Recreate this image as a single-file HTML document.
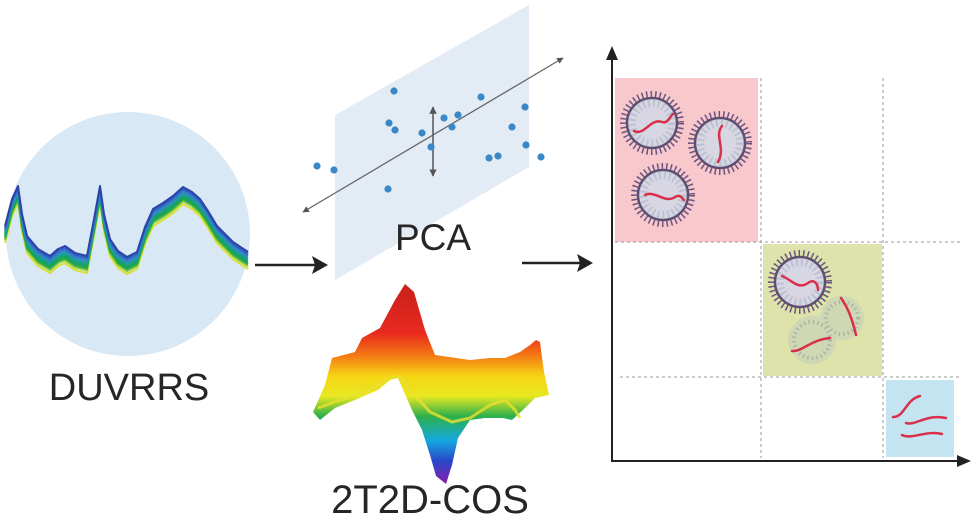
<!DOCTYPE html>
<html><head><meta charset="utf-8"><style>
html,body{margin:0;padding:0;background:#fff;}
svg{display:block;}
</style></head><body>
<svg width="976" height="525" viewBox="0 0 976 525" xmlns="http://www.w3.org/2000/svg">
<defs>
<linearGradient id="rb" x1="0" y1="283" x2="0" y2="485" gradientUnits="userSpaceOnUse">
<stop offset="0" stop-color="#c8201c"/>
<stop offset="0.25" stop-color="#e82a1e"/>
<stop offset="0.36" stop-color="#f47a14"/>
<stop offset="0.46" stop-color="#f6d414"/>
<stop offset="0.56" stop-color="#e8e820"/>
<stop offset="0.66" stop-color="#2cb04a"/>
<stop offset="0.78" stop-color="#14a8e0"/>
<stop offset="0.88" stop-color="#2848c8"/>
<stop offset="1" stop-color="#8a1ab0"/>
</linearGradient>
<marker id="ah" viewBox="0 0 10 10" refX="9" refY="5" markerWidth="5" markerHeight="5" orient="auto-start-reverse"><path d="M0,0 L10,5 L0,10 z" fill="#555"/></marker>
<g id="vir">
<circle r="29" fill="none" stroke="#6a5680" stroke-width="6" stroke-dasharray="1.5 3"/>
<circle r="25" fill="#d9d6e3" stroke="#5e4e72" stroke-width="2.5"/>
<circle r="20" fill="none" stroke="#a7b4c4" stroke-width="8" stroke-dasharray="2 3" opacity="0.6"/>
</g>
<path id="sp" d="M5,227 L12,200 L18,187 L22,215 L27,237 L38,250 L50,257 L58,250 L65,247 L75,254 L87,257 L94,220 L100,187 L104,215 L110,240 L118,252 L127,258 L137,253 L145,228 L153,210 L163,204 L173,197 L183,188 L192,193 L200,200 L208,212 L217,227 L233,243 L248,253"/>
</defs>

<circle cx="128" cy="234" r="122" fill="#d8e8f5"/>
<g fill="none" stroke-width="2" stroke-linejoin="round">
<use href="#sp" stroke="#d8e030" transform="translate(0,16)"/>
<use href="#sp" stroke="#7cc63a" transform="translate(0,13)"/>
<use href="#sp" stroke="#22a848" transform="translate(0,11)"/>
<use href="#sp" stroke="#1aa060" transform="translate(0,9)"/>
<use href="#sp" stroke="#18a080" transform="translate(0,7)"/>
<use href="#sp" stroke="#2098b0" transform="translate(0,5)"/>
<use href="#sp" stroke="#3a7ccc" transform="translate(0,3)"/>
<use href="#sp" stroke="#3060c0" transform="translate(0,1)"/>
<use href="#sp" stroke="#2a44a8" transform="translate(0,-1)"/>
</g>
<text x="129" y="400" text-anchor="middle" font-family="Liberation Sans, sans-serif" font-size="38" fill="#262626">DUVRRS</text>

<line x1="255" y1="265" x2="318" y2="265" stroke="#222" stroke-width="2.5"/>
<path d="M328,265 L312,256 L315,265 L312,274 z" fill="#222"/>
<line x1="522" y1="263" x2="583" y2="263" stroke="#222" stroke-width="2.5"/>
<path d="M593,263 L577,254 L580,263 L577,272 z" fill="#222"/>

<polygon points="335,115 529,5 529,167 335,280" fill="#e3ebf5"/>
<line x1="303" y1="212" x2="563" y2="58" stroke="#666" stroke-width="1.3" marker-start="url(#ah)" marker-end="url(#ah)"/>
<line x1="433" y1="107" x2="433" y2="176" stroke="#555" stroke-width="1.5" marker-start="url(#ah)" marker-end="url(#ah)"/>
<g fill="#3a88c8">
<circle cx="394" cy="91" r="3.6"/><circle cx="481" cy="97" r="3.6"/><circle cx="525" cy="107" r="3.6"/>
<circle cx="389" cy="123" r="3.6"/><circle cx="395" cy="130" r="3.6"/><circle cx="422" cy="133" r="3.6"/>
<circle cx="444" cy="118" r="3.6"/><circle cx="458" cy="115" r="3.6"/><circle cx="452" cy="127" r="3.6"/>
<circle cx="512" cy="127" r="3.6"/><circle cx="431" cy="147" r="3.6"/><circle cx="526" cy="145" r="3.6"/>
<circle cx="489" cy="158" r="3.6"/><circle cx="498" cy="156" r="3.6"/><circle cx="541" cy="157" r="3.6"/>
<circle cx="317" cy="166" r="3.6"/><circle cx="334" cy="170" r="3.6"/><circle cx="388" cy="189" r="3.6"/>
</g>
<text x="433" y="250" text-anchor="middle" font-family="Liberation Sans, sans-serif" font-size="37" fill="#262626">PCA</text>

<path d="M313,412 L325,385 L332,358 L355,352 L362,338 L380,328 L395,300 L405,284 L414,292 L425,330 L435,355 L470,360 L490,358 L505,358 L520,352 L530,345 L536,340 L540,342 L544,372 L549,395 L535,398 L525,408 L512,420 L503,418 L485,418 L470,420 L458,438 L452,465 L446,484 L436,476 L430,455 L422,430 L412,410 L398,378 L390,380 L378,390 L355,400 L335,408 L320,420 Z" fill="url(#rb)"/>
<path d="M318,408 L340,400 L365,392 L390,378 L400,376 L412,392 L430,412 L452,422 L470,418 L490,405 L505,400 L515,410 L520,418" fill="none" stroke="#e8e030" stroke-width="3" opacity="0.8"/>
<text x="430" y="513" text-anchor="middle" font-family="Liberation Sans, sans-serif" font-size="40" fill="#262626">2T2D-COS</text>

<rect x="615" y="78" width="143" height="164" fill="#f8c8cc"/>
<rect x="763" y="244" width="119" height="132" fill="#dde3aa"/>
<rect x="886" y="380" width="68" height="77" fill="#c4e4f2"/>
<g stroke="#999" stroke-width="1" stroke-dasharray="3 3" fill="none">
<line x1="761" y1="78" x2="761" y2="458"/>
<line x1="883" y1="78" x2="883" y2="458"/>
<line x1="615" y1="242" x2="962" y2="242"/>
<line x1="620" y1="377" x2="962" y2="377"/>
</g>
<line x1="612" y1="58" x2="612" y2="461" stroke="#222" stroke-width="2"/>
<path d="M612,46 L606,60 L618,60 z" fill="#222"/>
<line x1="611" y1="461" x2="960" y2="461" stroke="#222" stroke-width="2"/>
<path d="M971,461 L957,455 L957,467 z" fill="#222"/>

<use href="#vir" x="652" y="123"/>
<use href="#vir" x="720" y="143"/>
<use href="#vir" x="663" y="195"/>
<use href="#vir" x="800" y="282"/>
<g fill="#c4d0bc" opacity="0.55">
<circle cx="842" cy="318" r="22"/><circle cx="812" cy="340" r="24"/>
</g>
<g fill="none" stroke="#98a8a8" stroke-width="4" stroke-dasharray="1.5 3" opacity="0.7">
<circle cx="842" cy="318" r="16"/><circle cx="812" cy="340" r="18"/>
</g>
<g fill="none" stroke="#d8304a" stroke-width="2.5" stroke-linecap="round">
<path d="M634,131 C645,136 650,118 662,122 C668,124 670,116 673,114"/>
<path d="M722,126 C714,136 726,148 718,162"/>
<path d="M645,195 C655,190 665,204 675,197 C680,194 682,198 684,200"/>
<path d="M782,276 C792,280 798,290 808,283 C815,278 818,285 818,290"/>
<path d="M841,298 C848,308 852,318 856,335"/>
<path d="M792,351 C802,352 810,340 830,338"/>
<path d="M893,417 C905,417 905,400 920,396"/>
<path d="M906,423 C916,426 925,414 946,418"/>
<path d="M902,435 C912,440 925,430 942,434"/>
</g>
</svg>
</body></html>
